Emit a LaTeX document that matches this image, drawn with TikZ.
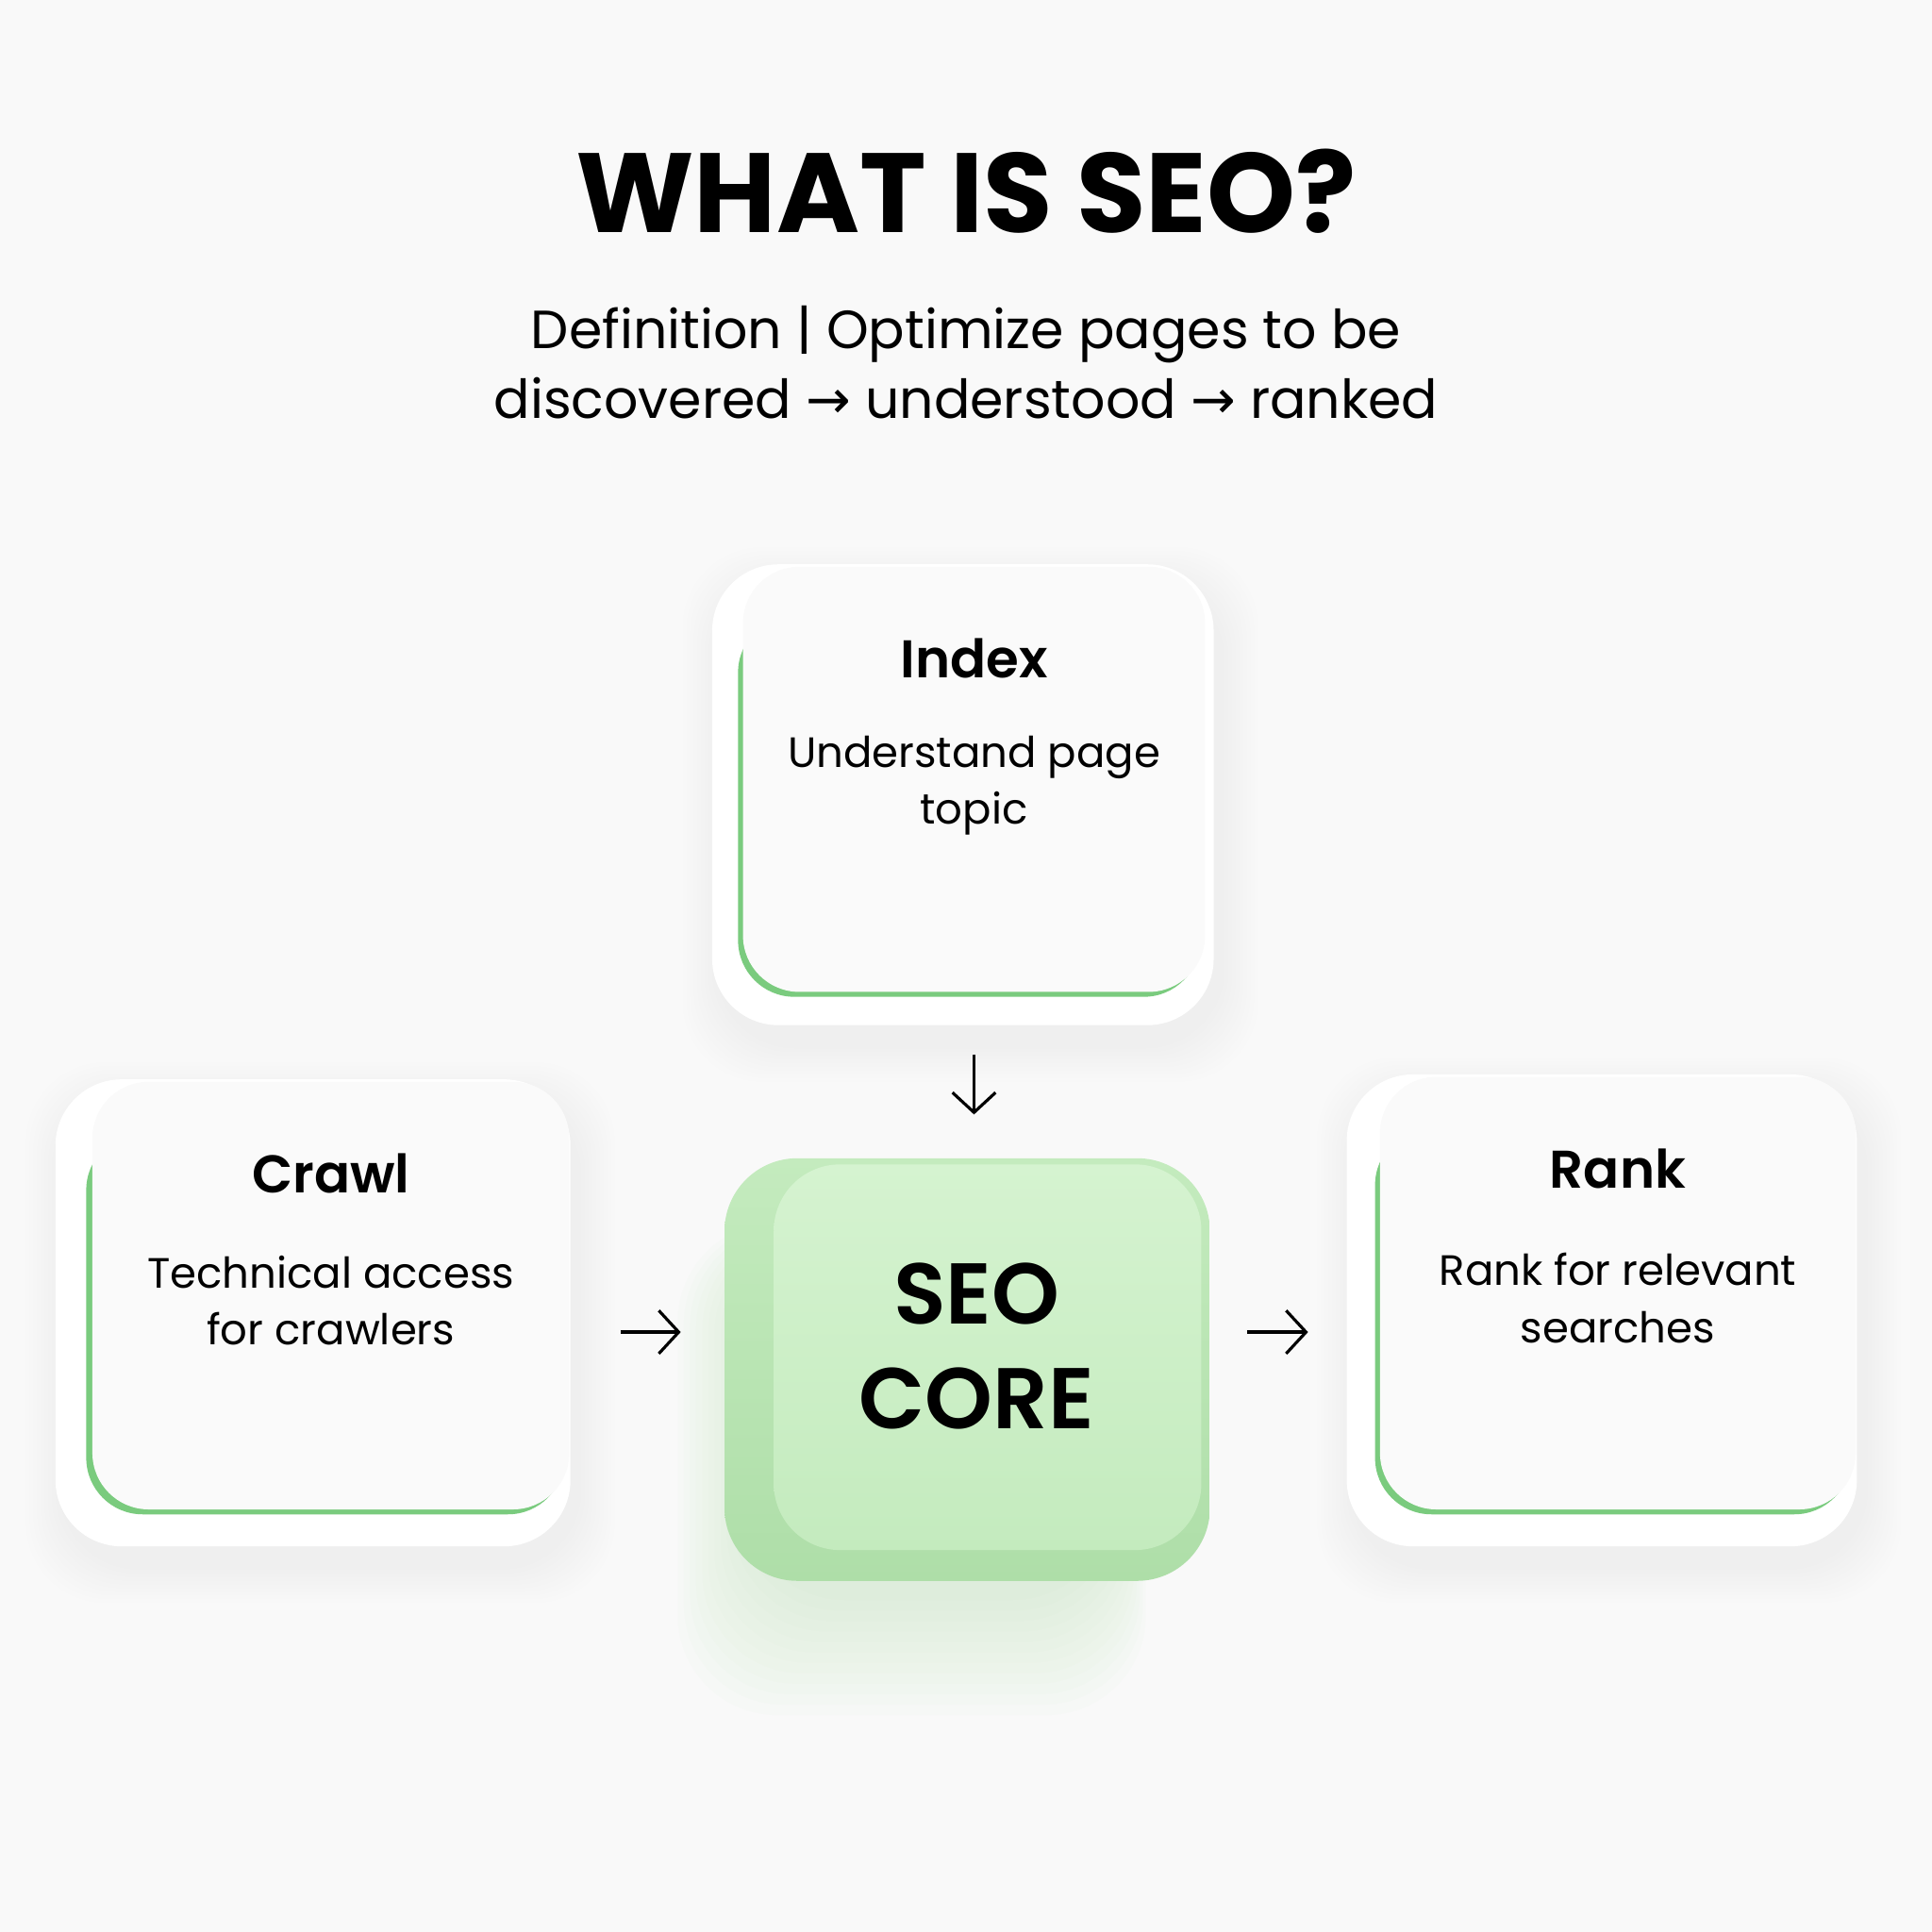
\documentclass[tikz,border=0pt]{standalone}
\usepackage{fontspec}
\setmainfont{Poppins}[BoldFont={* SemiBold}]
\newfontfamily\titlefont{Poppins Bold}
\newfontfamily\arrowfont{DejaVu Sans}
\usetikzlibrary{arrows.meta,positioning,fit}

\definecolor{bgcol}{HTML}{F9F9F9}
\definecolor{basecol}{HTML}{FFFFFF}
\definecolor{cardcol}{HTML}{FAFAFA}
\definecolor{edgegreen}{HTML}{7ACB7E}
\definecolor{coredark}{HTML}{AEDEA8}
\definecolor{coremid}{HTML}{C4EBBE}
\definecolor{corelight}{HTML}{D5F3D0}
\definecolor{glowgreen}{HTML}{9CD895}

\tikzset{
    card/.style={fill=cardcol, rounded corners=17pt, inner sep=0pt},
    head/.style={font=\fontsize{16pt}{20pt}\selectfont\bfseries},
    body/.style={font=\fontsize{12.8pt}{17.3pt}\selectfont, align=center},
    arr/.style={-{Straight Barb[length=6pt,width=13pt]}, line width=0.9pt},
}

\begin{document}
\begin{tikzpicture}[x=0.013061cm, y=-0.013061cm]
    \useasboundingbox (0,0) rectangle (1568,1568);
    \fill[bgcol] (0,0) rectangle (1568,1568);

    % title
    \node[font=\fontsize{34pt}{40pt}\selectfont\titlefont] (title) at (784,155) {WHAT IS SEO?};
    \node[font=\fontsize{16.2pt}{21.2pt}\selectfont, align=center] (subtitle) at (784,294)
        {Definition | Optimize pages to be\\discovered {\arrowfont →} understood {\arrowfont →} ranked};

    % white bases with soft shadow
    \foreach \xa/\ya/\xb/\yb in {578/458/985/832, 45/876/463/1255, 1093/872/1507/1255} {
        \foreach \k in {3,6,...,30}
            \fill[black, opacity=0.005, rounded corners=24pt]
                (\xa-\k+6,\ya-\k+16) rectangle (\xb+\k+6,\yb+\k+16);
        \fill[basecol, rounded corners=20pt] (\xa,\ya) rectangle (\xb,\yb);
    }

    % cards
    \fill[edgegreen, rounded corners=17pt] (599,500) rectangle (974,809);
    \node[card, fit={(603,460) (978,805)}] (index) {};
    \fill[edgegreen, rounded corners=17pt] (70,920) rectangle (458,1229);
    \node[card, fit={(75,878) (462,1225)}] (crawl) {};
    \fill[edgegreen, rounded corners=17pt] (1116,916) rectangle (1502,1229);
    \node[card, fit={(1120,874) (1506,1225)}] (rank) {};

    \path (index.north) ++(0,75) node[head] (indexhead) {Index};
    \path (index.north) ++(0,178) node[body] (indexbody) {Understand page\\topic};
    \path (crawl.north) ++(0,75) node[head] (crawlhead) {Crawl};
    \path (crawl.north) ++(0,178) node[body] (crawlbody) {Technical access\\for crawlers};
    \path (rank.north) ++(0,75) node[head] (rankhead) {Rank};
    \path (rank.north) ++(0,180) node[body] (rankbody) {Rank for relevant\\searches};

    % core
    \foreach \k in {5,10,...,60}
        \fill[glowgreen, opacity=0.025, rounded corners=30pt]
            (610-\k,1010-\k*0.3) rectangle (900+\k*0.5,1290+\k*1.7);
    \node[fit={(588,940) (982,1283)}, inner sep=0pt, rounded corners=22pt,
          top color=coremid, bottom color=coredark] (coredeep) {};
    \node[fit={(628,945) (975,1258)}, inner sep=0pt, rounded corners=20pt,
          top color=corelight, bottom color=coremid] (core) {};
    \path (core.center) ++(-9,-9) node[font=\fontsize{26pt}{31.6pt}\selectfont\bfseries, align=center]
        (coretext) {SEO\\CORE};

    % arrows
    \draw[arr, shorten <=18.6pt, shorten >=13pt] (index.south) -- (index.south |- coredeep.north);
    \draw[arr, shorten <=15.2pt, shorten >=13pt]
        ([yshift=-11pt]crawl.east) -- ([yshift=-11pt]crawl.east -| coredeep.west);
    \draw[arr, shorten <=11pt, shorten >=21.5pt]
        ([yshift=-11pt]crawl.east -| coredeep.east) -- ([yshift=-11pt]crawl.east -| rank.west);
\end{tikzpicture}
\end{document}
